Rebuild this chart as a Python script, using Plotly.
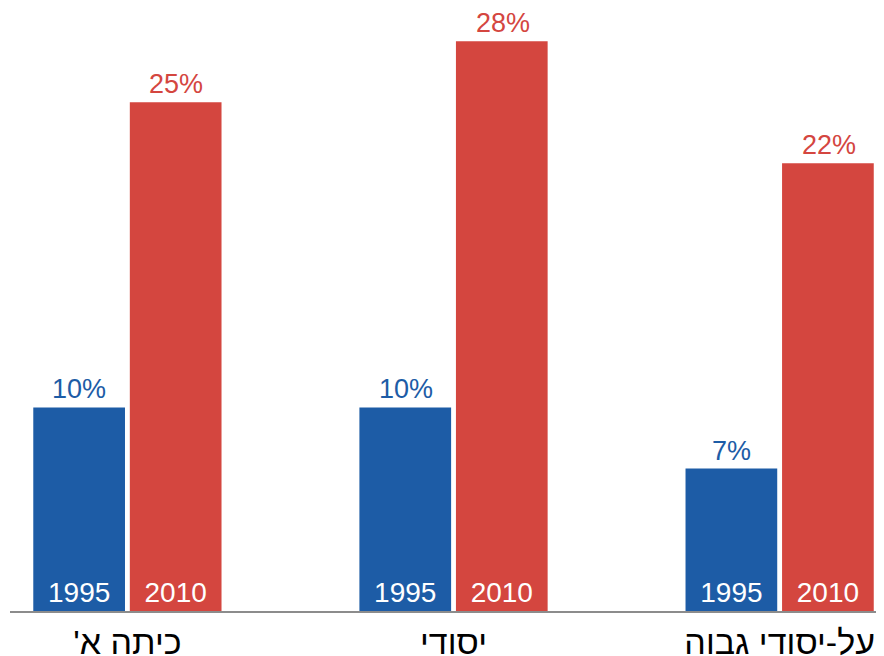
import plotly.graph_objects as go

categories = ["כיתה א'\u200F", "יסודי", "על-יסודי גבוה"]
values_1995 = [10, 10, 7]
values_2010 = [25, 28, 22]
series_names = ["1995", "2010"]

BLUE = "#1d5ca6"
RED = "#d4463f"
FONT = "Liberation Sans, Arial, sans-serif"

fig = go.Figure()
for name, vals, col in [(series_names[0], values_1995, BLUE), (series_names[1], values_2010, RED)]:
    fig.add_trace(go.Bar(
        x=categories, y=vals, name=name, marker=dict(color=col, line=dict(width=0)),
        text=[name] * len(vals), textposition="inside", insidetextanchor="start",
        textangle=0, insidetextfont=dict(color="white", size=28, family=FONT),
        constraintext="none", hoverinfo="skip",
    ))

annotations = []
for vals, col, shift in [(values_1995, BLUE, -48), (values_2010, RED, 49)]:
    for c, v in zip(categories, vals):
        annotations.append(dict(
            x=c, y=v, xref="x", yref="y", text=f"{v}%", showarrow=False,
            xshift=shift, yanchor="bottom", yshift=1,
            font=dict(color=col, size=27, family=FONT),
        ))

fig.update_layout(
    width=876, height=648,
    margin=dict(l=2, r=0, t=0, b=45),
    paper_bgcolor="white", plot_bgcolor="white",
    barmode="group", bargap=0.408, bargroupgap=0.05,
    showlegend=False,
    annotations=annotations,
    xaxis=dict(range=[-0.36, 2.32], showline=True, linecolor="#8c8c8c", linewidth=2,
               ticks="", showgrid=False, zeroline=False, automargin=False,
               ticklabelstandoff=0,
               tickfont=dict(size=34, color="black", family=FONT)),
    yaxis=dict(range=[0, 29.63], visible=False, showgrid=False, zeroline=False),
)

fig.write_html("out.html")
